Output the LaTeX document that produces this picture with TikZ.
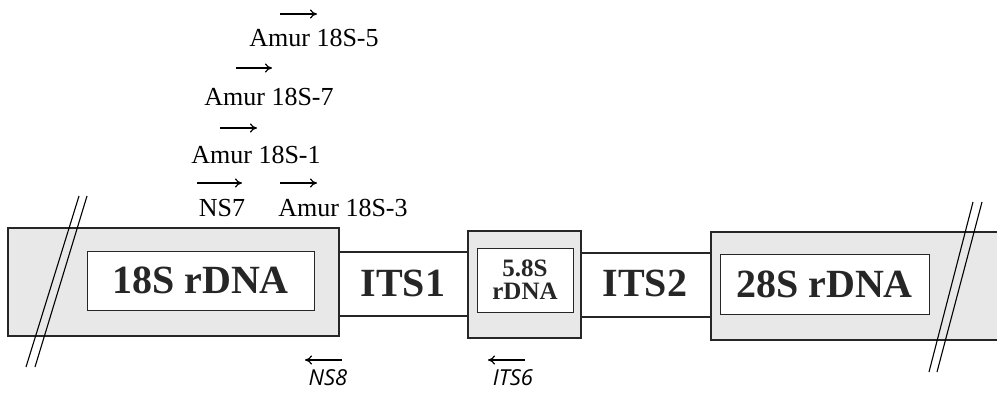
\documentclass[tikz,border=0pt]{standalone}
\usepackage{fontspec}
\setmainfont{Liberation Serif}
\newfontfamily\primerfont{Open Sans}
\usetikzlibrary{arrows.meta}
\begin{document}
\begin{tikzpicture}[x=1pt,y=-1pt,
  outerbox/.style={draw=black!85,line width=1.3pt,fill=black!9,inner sep=0pt},
  innerbox/.style={draw=black!85,line width=1pt,fill=white,inner sep=0pt,text=black!85},
  biglabel/.style={font=\fontsize{40}{40}\selectfont\bfseries,text=black!85},
  smalllabel/.style={font=\fontsize{25}{23}\selectfont\bfseries,align=center},
  primer/.style={font=\fontsize{26}{26}\selectfont,inner sep=0pt},
  rprimer/.style={font=\fontsize{22}{22}\selectfont\primerfont\itshape,inner sep=0pt},
  parrow/.style={line width=1.2pt,-{To[length=7pt,width=9pt]}},
  band/.style={draw=black!85,line width=1.2pt},
  brk/.style={line width=1.1pt}]
\useasboundingbox (0,0) rectangle (997,392);
% 28S outer band running off the right edge
\path[fill=black!9] (711,232) rectangle (997,340);
\coordinate (r1) at (997,232); \coordinate (r2) at (711,232);
\coordinate (r3) at (711,340); \coordinate (r4) at (997,340);
\draw[band,line width=1.3pt] (r1) -- (r2) -- (r3) -- (r4);
% outer boxes
\node[outerbox,minimum width=331pt,minimum height=108pt] (o18) at (173.5,282) {};
\node[outerbox,minimum width=113pt,minimum height=107pt] (o58) at (524.5,284.5) {};
% ITS bands
\coordinate (a1) at (339,252); \coordinate (a2) at (468,252);
\coordinate (a3) at (339,316); \coordinate (a4) at (468,316);
\coordinate (c1) at (581,253); \coordinate (c2) at (711,253);
\coordinate (c3) at (581,317); \coordinate (c4) at (711,317);
\draw[band] (a1) -- (a2); \draw[band] (a3) -- (a4);
\draw[band] (c1) -- (c2); \draw[band] (c3) -- (c4);
% inner boxes with labels
\node[innerbox,biglabel,minimum width=227pt,minimum height=59pt] (i18) at (200.5,280.5) {18S rDNA};
\node[innerbox,smalllabel,minimum width=96pt,minimum height=64pt] (i58) at (525,280) {5.8S\\rDNA};
\node[innerbox,biglabel,minimum width=209pt,minimum height=60pt] (i28) at (824.5,284) {28S rDNA};
\node[biglabel] (tits1) at (403,283) {ITS1};
\node[biglabel] (tits2) at (645,283) {ITS2};
% break marks
\coordinate (s1a) at (79,196); \coordinate (s1b) at (26,367);
\coordinate (s2a) at (87,196); \coordinate (s2b) at (35,367);
\draw[brk] (s1a) -- (s1b); \draw[brk] (s2a) -- (s2b);
\coordinate (s3a) at (973,202); \coordinate (s3b) at (929,372);
\coordinate (s4a) at (982,202); \coordinate (s4b) at (937,372);
\draw[brk] (s3a) -- (s3b); \draw[brk] (s4a) -- (s4b);
% forward primers
\node[primer] (p5) at (314,38) {Amur 18S-5};
\node[primer] (p7) at (269,97) {Amur 18S-7};
\node[primer] (p1) at (256,155) {Amur 18S-1};
\node[primer] (ns7) at (222,208) {NS7};
\node[primer] (p3) at (343,208) {Amur 18S-3};
\coordinate (f5a) at (280,14); \coordinate (f5b) at (317,14);
\coordinate (f7a) at (236,68); \coordinate (f7b) at (272,68);
\coordinate (f1a) at (220,128); \coordinate (f1b) at (257,128);
\coordinate (fna) at (197,183); \coordinate (fnb) at (242,183);
\coordinate (f3a) at (280,183); \coordinate (f3b) at (317,183);
\draw[parrow] (f5a) -- (f5b);
\draw[parrow] (f7a) -- (f7b);
\draw[parrow] (f1a) -- (f1b);
\draw[parrow] (fna) -- (fnb);
\draw[parrow] (f3a) -- (f3b);
% reverse primers
\node[rprimer] (ns8) at (328,378) {NS8};
\node[rprimer] (its6) at (513,378) {ITS6};
\coordinate (n8a) at (342,360); \coordinate (n8b) at (305,360);
\coordinate (i6a) at (525,360); \coordinate (i6b) at (488,360);
\draw[parrow] (n8a) -- (n8b);
\draw[parrow] (i6a) -- (i6b);
\end{tikzpicture}
\end{document}
